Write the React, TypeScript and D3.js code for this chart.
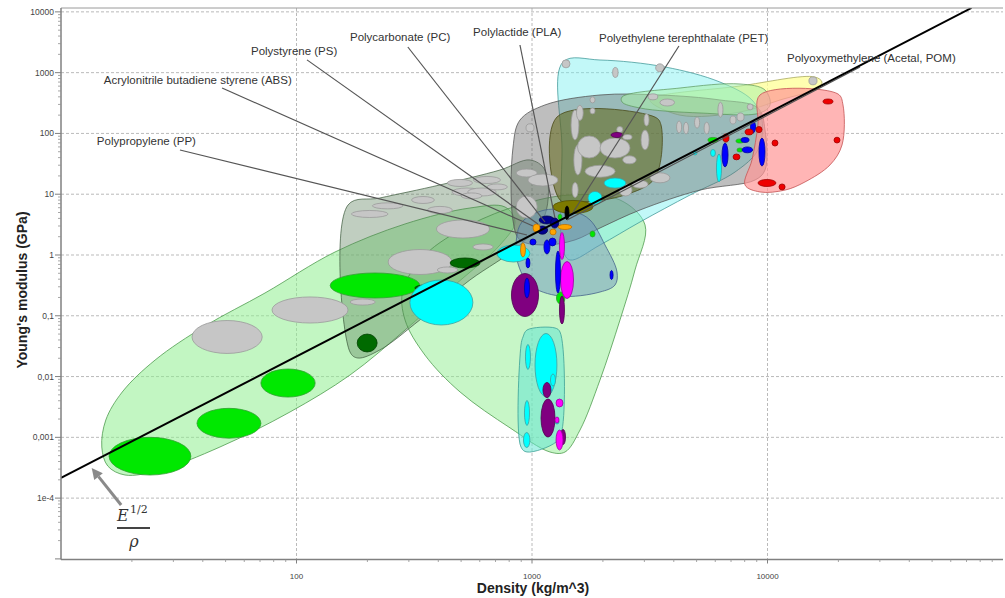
import React from "react";
import * as d3 from "d3";

type Pt = [number, number];
type Bub = [number, number, number, number]; // densityMin, densityMax, modulusMin, modulusMax

// ---------- axes ----------
const densityTicks = [100, 1000, 10000];
const densityTickLabels = ["100", "1000", "10000"];
const modulusTicks = [1e-4, 1e-3, 1e-2, 1e-1, 1, 10, 100, 1000, 10000];
const modulusTickLabels = ["1e-4", "0,001", "0,01", "0,1", "1", "10", "100", "1000", "10000"];

// ---------- material family envelopes [density kg/m^3, modulus GPa] ----------
const foamsEnvelope: Pt[] = [
  [14.9, 6.93e-4], [15.5, 1.93e-3], [18.2, 5.57e-3], [25.1, 0.0187], [40.9, 0.0679], [73.5, 0.237],
  [145.7, 1.12], [289, 3.24], [545, 5.93], [768, 6.16], [847, 3.49], [731, 1.46], [471, 0.321],
  [289, 0.0583], [168.7, 0.0106], [93.8, 0.00261], [47.3, 6.93e-4], [26.3, 2.9e-4], [18.7, 2.4e-4], [15.8, 3.37e-4],
];
const elastomersEnvelope: Pt[] = [
  [283, 0.265], [351, 1.0], [545, 3.12], [889, 6.66], [1450, 9.71], [2364, 8.04], [3020, 3.12],
  [2737, 0.566], [2364, 0.0853], [1944, 0.00878], [1599, 0.00132], [1381, 5.74e-4], [1192, 5.74e-4],
  [807, 1.43e-3], [495, 5.57e-3], [351, 0.0226], [289, 0.0853],
];
const naturalEnvelope: Pt[] = [
  [165.5, 6.65], [226, 8.67], [406, 14.2], [731, 25.0], [980, 36.6], [1135, 25.0], [1135, 4.55],
  [889, 1.46], [545, 0.388], [334, 0.0853], [226, 0.0274], [182, 0.0202], [168.7, 0.0254],
];
const compositesEnvelope: Pt[] = [
  [830, 57.6], [889, 166], [1135, 294], [1944, 429], [3495, 429], [6280, 355], [9110, 262], [9760, 114],
  [9760, 25.0], [8850, 17.1], [5170, 11.7], [2875, 5.5], [1944, 2.78], [1522, 1.77], [1135, 1.46],
  [889, 1.77], [830, 3.77],
];
const woodEnvelope: Pt[] = [
  [1276, 186], [3327, 186], [3530, 138], [3327, 18.5], [2483, 9.71], [1599, 7.45], [1315, 8.04],
];
const ceramicsEnvelope: Pt[] = [
  [1354, 1498], [1944, 1615], [3671, 1240], [6280, 701], [8590, 355], [9476, 166], [9110, 53.7],
  [7280, 23.2], [4690, 9.71], [2875, 3.49], [1944, 1.46], [1450, 0.827], [1354, 1.21], [1341, 53.7],
];
const metalsEnvelope: Pt[] = [
  [3170, 355], [7640, 603], [15910, 848], [17030, 701], [16380, 559], [11300, 355], [7640, 225], [4250, 200],
];
const glassEnvelope: Pt[] = [
  [2412, 398], [4250, 559], [7640, 651], [9760, 518], [10250, 294], [9290, 217], [5170, 217], [2875, 262], [2412, 329],
];
const heavyMetalsEnvelope: Pt[] = [
  [9290, 429], [19920, 446], [20920, 294], [20720, 64.5], [18420, 30.3], [14420, 15.9], [11870, 11.7],
  [9290, 10.9], [8025, 14.2], [8590, 36.6], [9110, 138],
];
const polymersEnvelope: Pt[] = [
  [907, 3.49], [1135, 5.5], [1522, 5.1], [1763, 3.77], [2042, 1.46], [2296, 0.525], [2252, 0.321],
  [1944, 0.246], [1315, 0.211], [980, 0.321], [868, 0.767], [860, 1.9],
];
const gelsEnvelope: Pt[] = [
  [916, 0.0448], [952, 0.0583], [1252, 0.063], [1315, 0.0541], [1341, 0.00132], [1265, 8.38e-4],
  [952, 5.74e-4], [898, 6.93e-4], [898, 0.033],
];

// ---------- individual materials [densityMin, densityMax, modulusMin, modulusMax] ----------
const foamBubbles: Bub[] = [
  [16, 35.6, 2.4e-4, 1.0e-3], [37.8, 70.6, 9.7e-4, 3.0e-3], [70.6, 120, 0.0046, 0.0133], [139, 334, 0.196, 0.506],
  [1290, 1340, 3.8, 4.7], [1270, 1380, 0.156, 0.246], [1763, 1853, 1.98, 2.48],
  [5585, 6170, 71, 86], [7345, 7945, 69.6, 81], [7420, 7860, 49.5, 57.6],
];
const darkGreenBubbles: Bub[] = [
  [181, 220, 0.0254, 0.05], [449, 601, 0.611, 0.893], [318, 387, 0.256, 0.321],
];
const greyBubbles: Bub[] = [
  [36, 71.5, 0.024, 0.0836], [78.7, 165.5, 0.076, 0.204], [245, 457, 0.478, 1.23], [393, 660, 1.9, 3.77],
  [171, 245, 4.14, 5.4], [308, 385, 7.04, 9.17], [457, 614, 9.35, 12.65], [561, 684, 1.21, 1.52],
  [169, 216, 0.15, 0.189], [396, 484, 0.506, 0.635], [437, 559, 13.4, 17.5], [564, 735, 15, 19.6],
  [533, 705, 9.35, 12.65], [644, 786, 11.8, 14.75], [500, 613, 8.4, 10.5], [856, 1052, 19.2, 26],
  [961, 1288, 13.6, 21.5], [856, 1052, 4.06, 9.35], [1465, 1582, 78, 243], [1505, 1630, 20.7, 64.6],
  [1480, 1570, 8.83, 15.6], [1560, 1960, 39.4, 90.8], [1944, 2607, 39.4, 84.1], [1680, 2254, 19.0, 29.9],
  [2427, 2770, 31.6, 42.8], [2904, 3140, 53.7, 114], [3170, 3854, 15.4, 22.5], [2660, 3110, 12.6, 16.9],
  [2340, 2660, 9.35, 14.75], [1763, 1853, 318, 400], [1763, 1853, 210, 263], [1341, 1450, 1199, 1623],
  [3350, 3640, 1031, 1397], [2200, 2320, 834, 1218], [3110, 3420, 357, 448], [3495, 4030, 283, 368],
  [943, 1020, 106, 144], [2290, 2430, 103, 130], [2427, 2660, 79, 96], [2990, 3140, 133, 210],
  [4110, 4320, 102, 160], [4400, 4620, 98, 153], [4900, 5150, 122, 187], [5380, 5660, 98, 153],
  [6160, 6470, 185, 326], [6930, 7350, 143, 194], [7420, 7950, 160, 217], [8200, 8690, 244, 306],
  [14990, 16230, 631, 851], [1545, 1650, 164, 290], [210, 283, 5.74, 7.21], [360, 459, 4.8, 6.3],
];
const oliveBubbles: Bub[] = [[1227, 1816, 4.82, 7.9]];
const cyanBubbles: Bub[] = [
  [303, 561, 0.0705, 0.388], [710, 980, 0.767, 1.46], [1729, 1983, 6.78, 11.1], [2022, 2506, 12.6, 18.5],
  [6070, 6380, 15.9, 45.9], [5730, 6010, 41.7, 54.5], [4830, 5020, 44.2, 51.4],
  [1030, 1276, 0.0047, 0.0511], [938, 985, 0.0131, 0.0337], [929, 976, 0.00157, 0.00404],
  [920, 980, 0.00068, 0.0012], [1198, 1258, 0.007, 0.011], [1252, 1302, 0.00166, 0.00193],
];
const purpleBubbles: Bub[] = [
  [818, 1066, 0.0973, 0.496], [1308, 1374, 0.0733, 0.2115], [1092, 1252, 0.00101, 0.00428],
  [1113, 1204, 0.0045, 0.008], [1322, 1388, 0.00076, 0.00135], [2165, 2434, 85.7, 103.6],
];
const magentaBubbles: Bub[] = [
  [1322, 1501, 0.192, 0.782], [1308, 1374, 0.843, 2.34], [1265, 1354, 0.00316, 0.00427],
  [1265, 1354, 0.00062, 0.00132], [1252, 1302, 0.00172, 0.00216],
];
const blueBubbles: Bub[] = [
  [1258, 1321, 0.237, 1.16], [1124, 1192, 1.04, 1.77], [1180, 1265, 1.41, 1.9], [980, 1040, 1.46, 1.83],
  [943, 980, 0.611, 0.893], [929, 976, 0.196, 0.418], [2144, 2210, 0.395, 0.556], [8470, 8900, 102, 160],
  [6410, 6800, 28.1, 69.6], [9200, 9760, 29, 84], [7720, 8350, 71, 85.7], [7800, 8650, 48, 60],
];
const navyBubbles: Bub[] = [
  [1073, 1245, 3.24, 4.38], [1052, 1165, 2.2, 3.0], [1200, 1300, 2.77, 4.06],
];
const redBubbles: Bub[] = [
  [17210, 18970, 305, 368], [10450, 11080, 62, 78], [19160, 20320, 69.6, 86.7], [9115, 10860, 13.4, 17.5],
  [11190, 11880, 11.8, 14.75], [6460, 6860, 72, 98], [7140, 7640, 36.8, 45.9], [8030, 8690, 94.6, 118],
  [8930, 9480, 103, 130],
];
const orangeBubbles: Bub[] = [
  [1010, 1081, 2.4, 3.24], [1192, 1266, 2.14, 2.68], [1290, 1476, 2.63, 3.18], [894, 938, 0.927, 1.58],
];
const blackBubbles: Bub[] = [[1381, 1436, 3.79, 6.4]];

// ---------- guide line E^(1/2)/rho = const ----------
const indexLine: Pt[] = [[10, 2.15e-4], [73500, 11600]];
const indexArrow: Pt[] = [[18.0, 7.7e-5], [13.5, 3.13e-4]];

// ---------- annotations ----------
const annotationNames = [
  "Polypropylene (PP)",
  "Acrylonitrile butadiene styrene (ABS)",
  "Polystyrene (PS)",
  "Polycarbonate (PC)",
  "Polylactide (PLA)",
  "Polyethylene terephthalate (PET)",
  "Polyoxymethylene (Acetal, POM)",
];
const annotationTextAt: Pt[] = [
  [14.2, 64.5], [15.2, 651], [64.1, 1950], [168.7, 3319], [562, 4010], [1925, 3196], [12100, 1497],
];
const annotationFrom: Pt[] = [
  [32.0, 53.4], [48.3, 559], [110.8, 1623], [297, 2643], [889, 2851], [4207, 2748], [24710, 1240],
];
const annotationTo: Pt[] = [
  [952, 2.13], [1009, 3.0], [1060, 3.24], [1135, 3.49], [1252, 4.06], [1479, 4.73], [1408, 3.77],
];

const FONT = "'Liberation Sans', Arial, Helvetica, sans-serif";

export default function App() {
  const x = d3.scaleLog().domain([10, 100000]).range([61, 1003]);
  const y = d3.scaleLog().domain([1e-5, 11580]).range([558.9, 8]);
  const left = 61, right = 1003, top = 8, bottom = 559.5;

  const line = d3
    .line<Pt>()
    .x((d) => x(d[0]))
    .y((d) => y(d[1]))
    .curve(d3.curveCatmullRomClosed.alpha(0.5));

  const envelopes = [
    { pts: foamsEnvelope, fill: "rgba(144,238,144,0.55)", stroke: "rgba(70,150,70,0.75)" },
    { pts: elastomersEnvelope, fill: "rgba(144,238,144,0.5)", stroke: "rgba(70,150,70,0.75)" },
    { pts: naturalEnvelope, fill: "rgba(90,125,90,0.38)", stroke: "rgba(60,90,60,0.7)" },
    { pts: metalsEnvelope, fill: "rgba(255,255,150,0.75)", stroke: "rgba(170,170,90,0.8)" },
    { pts: ceramicsEnvelope, fill: "rgba(120,240,240,0.45)", stroke: "rgba(60,150,150,0.75)" },
    { pts: compositesEnvelope, fill: "rgba(100,100,100,0.42)", stroke: "rgba(80,80,80,0.75)" },
    { pts: glassEnvelope, fill: "rgba(170,240,170,0.55)", stroke: "rgba(90,150,90,0.7)" },
    { pts: woodEnvelope, fill: "rgba(95,100,20,0.55)", stroke: "rgba(70,70,20,0.75)" },
    { pts: heavyMetalsEnvelope, fill: "rgba(255,150,150,0.7)", stroke: "rgba(200,90,90,0.85)" },
    { pts: polymersEnvelope, fill: "rgba(110,150,190,0.5)", stroke: "rgba(70,100,140,0.8)" },
    { pts: gelsEnvelope, fill: "rgba(100,230,210,0.55)", stroke: "rgba(60,160,150,0.8)" },
  ];

  const bubbleGroups = [
    { data: greyBubbles, fill: "#c6c6c6", stroke: "#9a9a9a" },
    { data: foamBubbles, fill: "#00e800", stroke: "#30a030" },
    { data: darkGreenBubbles, fill: "#006a00", stroke: "#004000" },
    { data: cyanBubbles, fill: "#00ffff", stroke: "#40a0a0" },
    { data: oliveBubbles, fill: "#7d7a00", stroke: "#555200" },
    { data: purpleBubbles, fill: "#800080", stroke: "#500050" },
    { data: magentaBubbles, fill: "#ff00ff", stroke: "#a000a0" },
    { data: blueBubbles, fill: "#0000ff", stroke: "#0000a0" },
    { data: navyBubbles, fill: "#000090", stroke: "#000050" },
    { data: redBubbles, fill: "#ee0000", stroke: "#a00000" },
    { data: orangeBubbles, fill: "#ffa500", stroke: "#c07000" },
    { data: blackBubbles, fill: "#000000", stroke: "#000000" },
  ];

  const ell = (b: Bub) => {
    const x1 = x(b[0]), x2 = x(b[1]), y1 = y(b[3]), y2 = y(b[2]);
    return { cx: (x1 + x2) / 2, cy: (y1 + y2) / 2, rx: Math.max((x2 - x1) / 2, 1), ry: Math.max((y2 - y1) / 2, 1) };
  };

  const xMinor: number[] = [];
  for (let d = 10; d < 100000; d *= 10) for (let m = 2; m <= 9; m++) xMinor.push(d * m);
  const yMinor: number[] = [];
  for (let d = 1e-5; d < 10000; d *= 10) for (let m = 2; m <= 9; m++) yMinor.push(d * m);

  // arrow geometry
  const tail = { x: x(indexArrow[0][0]), y: y(indexArrow[0][1]) };
  const tip = { x: x(indexArrow[1][0]), y: y(indexArrow[1][1]) };
  const dx = tip.x - tail.x, dy = tip.y - tail.y;
  const len = Math.hypot(dx, dy);
  const ux = dx / len, uy = dy / len;
  const bx = tip.x - 11 * ux, by = tip.y - 11 * uy;
  const nx = -uy, ny = ux;
  const head = `M${tip.x},${tip.y}L${bx + 5.5 * nx},${by + 5.5 * ny}L${bx - 5.5 * nx},${by - 5.5 * ny}Z`;

  return (
    <svg width={1005} height={598} style={{ position: "absolute", left: 0, top: 0, background: "#fff" }}>
      <defs>
        <clipPath id="plot">
          <rect x={left} y={top} width={right - left} height={bottom - top} />
        </clipPath>
      </defs>
      <rect x={0} y={0} width={1005} height={598} fill="#fff" />

      {/* grid */}
      {modulusTicks.map((t) => (
        <line key={"gy" + t} x1={left} x2={right} y1={y(t)} y2={y(t)} stroke="#a8a8a8" strokeWidth={0.8} strokeDasharray="3,2" />
      ))}
      {densityTicks.map((t) => (
        <line key={"gx" + t} x1={x(t)} x2={x(t)} y1={top} y2={bottom} stroke="#a8a8a8" strokeWidth={0.8} strokeDasharray="3,2" />
      ))}

      <g clipPath="url(#plot)">
        {envelopes.map((e, i) => (
          <path key={"env" + i} d={line(e.pts) || ""} fill={e.fill} stroke={e.stroke} strokeWidth={1} />
        ))}
        {bubbleGroups.map((g, gi) =>
          g.data.map((b, i) => {
            const p = ell(b);
            return <ellipse key={gi + "-" + i} cx={p.cx} cy={p.cy} rx={p.rx} ry={p.ry} fill={g.fill} stroke={g.stroke} strokeWidth={0.8} />;
          })
        )}
        {annotationNames.map((n, i) => (
          <line
            key={"ld" + i}
            x1={x(annotationFrom[i][0])}
            y1={y(annotationFrom[i][1])}
            x2={x(annotationTo[i][0])}
            y2={y(annotationTo[i][1])}
            stroke="#555"
            strokeWidth={1.2}
          />
        ))}
        <line
          x1={x(indexLine[0][0])}
          y1={y(indexLine[0][1])}
          x2={x(indexLine[1][0])}
          y2={y(indexLine[1][1])}
          stroke="#000"
          strokeWidth={2}
        />
      </g>

      {/* annotation labels */}
      {annotationNames.map((n, i) => (
        <text key={"lt" + i} x={x(annotationTextAt[i][0])} y={y(annotationTextAt[i][1])} fontFamily={FONT} fontSize={11.5} fill="#333">
          {n}
        </text>
      ))}

      {/* index arrow and label */}
      <line x1={tail.x} y1={tail.y} x2={bx} y2={by} stroke="#8a8a8a" strokeWidth={3} />
      <path d={head} fill="#8a8a8a" />
      <text x={117} y={521} fontFamily="'DejaVu Serif', serif" fontStyle="italic" fontSize={16} fill="#333">E</text>
      <text x={130} y={513} fontFamily="'DejaVu Serif', serif" fontSize={11} fill="#333">1/2</text>
      <line x1={117} x2={150} y1={528} y2={528} stroke="#444" strokeWidth={2} />
      <text x={134} y={547} textAnchor="middle" fontFamily="'DejaVu Serif', serif" fontStyle="italic" fontSize={16} fill="#333">ρ</text>

      {/* frame */}
      <line x1={left} x2={right} y1={top} y2={top} stroke="#9a9a9a" strokeWidth={1} />
      <line x1={left} x2={left} y1={top} y2={bottom} stroke="#808080" strokeWidth={1.5} />
      <line x1={left} x2={right} y1={bottom} y2={bottom} stroke="#808080" strokeWidth={1.5} />

      {/* y ticks */}
      {modulusTicks.concat([1e-5]).map((t) => (
        <line key={"ty" + t} x1={left - 6} x2={left} y1={y(t)} y2={y(t)} stroke="#808080" strokeWidth={1} />
      ))}
      {yMinor.map((t) => (
        <line key={"tym" + t} x1={left - 3} x2={left} y1={y(t)} y2={y(t)} stroke="#909090" strokeWidth={0.8} />
      ))}
      {modulusTicks.map((t, i) => (
        <text key={"ly" + t} x={left - 7} y={y(t) + 3} textAnchor="end" fontFamily={FONT} fontSize={8.5} fill="#444">
          {modulusTickLabels[i]}
        </text>
      ))}

      {/* x ticks */}
      {densityTicks.map((t) => (
        <line key={"tx" + t} x1={x(t)} x2={x(t)} y1={bottom} y2={bottom + 4} stroke="#808080" strokeWidth={1} />
      ))}
      {xMinor.map((t) => (
        <line key={"txm" + t} x1={x(t)} x2={x(t)} y1={bottom} y2={bottom + 2.5} stroke="#909090" strokeWidth={0.8} />
      ))}
      {densityTicks.map((t, i) => (
        <text key={"lx" + t} x={x(t)} y={579} textAnchor="middle" fontFamily={FONT} fontSize={8} fill="#444">
          {densityTickLabels[i]}
        </text>
      ))}

      {/* axis titles */}
      <text x={533} y={593} textAnchor="middle" fontFamily={FONT} fontWeight="bold" fontSize={14} fill="#222">
        Density (kg/m^3)
      </text>
      <text
        transform="translate(27,290) rotate(-90)"
        textAnchor="middle"
        fontFamily={FONT}
        fontWeight="bold"
        fontSize={14}
        fill="#222"
      >
        Young's modulus (GPa)
      </text>
    </svg>
  );
}
